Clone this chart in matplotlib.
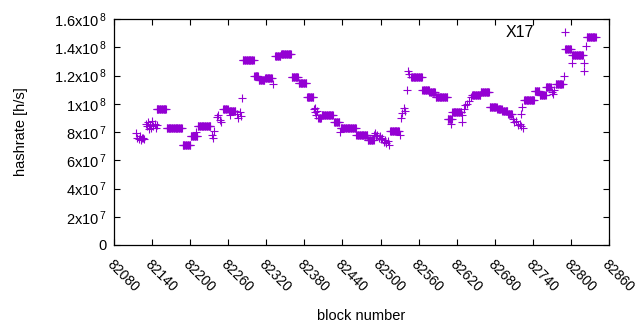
import numpy as np
import matplotlib
matplotlib.use("Agg")
import matplotlib.pyplot as plt

plt.rcParams['font.family'] = ['Liberation Sans', 'DejaVu Sans']
plt.rcParams['mathtext.fontset'] = 'custom'
plt.rcParams['mathtext.rm'] = 'Liberation Sans'
plt.rcParams['mathtext.default'] = 'regular'

# hashrate per block, read as runs of equal value (start block, end block, h/s)
seg_start = [82115, 82117, 82119, 82121, 82122, 82124, 82126, 82128,
             82130, 82132, 82134, 82135, 82137, 82139, 82140, 82142, 82144, 82146, 82148,
             82147, 82163, 82188, 82201, 82209, 82212, 82234, 82236, 82238,
             82242, 82244, 82247, 82249, 82252, 82261, 82262, 82274, 82276, 82278, 82280,
             82281, 82283, 82301, 82308, 82318, 82331, 82334, 82343, 82360, 82371, 82384,
             82395, 82396, 82397, 82398, 82400, 82402, 82407, 82427, 82436, 82437, 82462,
             82480, 82490, 82491, 82493, 82495, 82497, 82499, 82501, 82503, 82505, 82507,
             82509, 82511, 82513, 82515, 82530, 82532, 82534, 82537, 82539, 82541, 82543,
             82545, 82548, 82566, 82577, 82587, 82606, 82611, 82613, 82628, 82629, 82631,
             82633, 82636, 82639, 82642, 82644, 82658, 82672, 82684, 82692, 82701, 82708,
             82711, 82713, 82716, 82719, 82721, 82722, 82723, 82725, 82726, 82743, 82751,
             82761, 82770, 82772, 82774, 82776, 82789, 82791, 82801, 82802, 82820, 82821,
             82823, 82825]
seg_end = [82115, 82117, 82119, 82121, 82122, 82124, 82126, 82128,
           82130, 82132, 82134, 82135, 82137, 82139, 82140, 82142, 82144, 82146, 82148,
           82162, 82187, 82200, 82211, 82209, 82232, 82234, 82236, 82238,
           82242, 82244, 82247, 82249, 82259, 82271, 82262, 82274, 82276, 82278, 82280,
           82281, 82300, 82307, 82317, 82329, 82331, 82342, 82359, 82370, 82383, 82394,
           82395, 82396, 82397, 82398, 82400, 82406, 82425, 82435, 82436, 82461, 82479,
           82489, 82490, 82491, 82493, 82495, 82497, 82499, 82501, 82503, 82505, 82507,
           82509, 82511, 82513, 82529, 82530, 82532, 82534, 82537, 82539, 82541, 82543,
           82545, 82565, 82576, 82586, 82605, 82612, 82611, 82627, 82628, 82629, 82631,
           82633, 82636, 82639, 82642, 82657, 82671, 82683, 82691, 82700, 82707, 82708,
           82711, 82713, 82716, 82719, 82721, 82722, 82723, 82725, 82742, 82750, 82760,
           82768, 82770, 82772, 82774, 82787, 82789, 82800, 82801, 82819, 82820, 82821,
           82823, 82839]
seg_val = [7.9e7, 7.6e7, 7.5e7, 7.7e7, 7.4e7, 7.6e7, 7.55e7, 7.5e7,
           8.6e7, 8.4e7, 8.7e7, 8.2e7, 8.5e7, 8.3e7, 8.8e7, 8.4e7, 8.6e7, 8.3e7, 8.5e7,
           9.6e7, 8.3e7, 7.05e7, 7.7e7, 8.0e7, 8.45e7, 7.8e7, 7.6e7, 8.1e7,
           9.05e7, 9.2e7, 8.85e7, 8.7e7, 9.65e7, 9.5e7, 9.2e7, 9.3e7, 9.0e7, 9.4e7, 9.1e7,
           1.04e8, 1.31e8, 1.2e8, 1.17e8, 1.18e8, 1.14e8, 1.34e8, 1.35e8, 1.19e8, 1.15e8, 1.05e8,
           9.6e7, 9.4e7, 9.7e7, 9.2e7, 9.5e7, 9.0e7, 9.2e7, 8.7e7, 8.0e7, 8.25e7, 7.8e7,
           7.4e7, 7.8e7, 7.9e7, 7.7e7, 7.8e7, 7.6e7, 7.7e7, 7.5e7, 7.6e7, 7.3e7, 7.4e7,
           7.2e7, 7.35e7, 7.1e7, 8.1e7, 7.8e7, 9.0e7, 9.35e7, 9.7e7, 9.5e7, 1.1e8, 1.23e8,
           1.21e8, 1.19e8, 1.1e8, 1.08e8, 1.045e8, 8.9e7, 8.6e7, 9.4e7, 8.7e7, 9.2e7, 9.6e7,
           9.9e7, 1.0e8, 1.02e8, 1.05e8, 1.06e8, 1.08e8, 9.8e7, 9.6e7, 9.5e7, 9.3e7, 8.9e7,
           8.7e7, 8.8e7, 8.5e7, 8.6e7, 9.3e7, 8.4e7, 9.8e7, 8.3e7, 1.03e8, 1.09e8, 1.06e8,
           1.12e8, 1.08e8, 1.07e8, 1.10e8, 1.14e8, 1.2e8, 1.39e8, 1.29e8, 1.345e8, 1.29e8, 1.23e8,
           1.41e8, 1.47e8]

xticks = list(range(82080, 82861, 60))
yticks = [0, 2e7, 4e7, 6e7, 8e7, 1e8, 1.2e8, 1.4e8, 1.6e8]
ytick_labels = ["0", r"2x10$^{\,7}$", r"4x10$^{\,7}$", r"6x10$^{\,7}$", r"8x10$^{\,7}$",
                r"1x10$^{\,8}$", r"1.2x10$^{\,8}$", r"1.4x10$^{\,8}$", r"1.6x10$^{\,8}$"]

blocks = []
rate = []
for s, e, v in zip(seg_start, seg_end, seg_val):
    for b in range(s, e + 1):
        blocks.append(b)
        rate.append(v)

fig = plt.figure(figsize=(6.4, 3.3), dpi=100)
ax = fig.add_axes([114/640, 1-245/330, 495/640, 226/330])
ax.plot(blocks, rate, ls="none", marker="+", ms=5.6, mew=0.8, c="#9400d3", label="X17")
ax.set_xlim(82080, 82860)
ax.set_ylim(0, 1.6e8)
ax.set_xticks(xticks)
ax.set_xticklabels([str(t) for t in xticks], rotation=-45, ha="left", va="top",
                   rotation_mode="anchor", fontsize=10)
ax.set_yticks(yticks)
ax.set_yticklabels(ytick_labels, fontsize=10.5)
ax.tick_params(direction="in", length=4, width=0.8, top=True, right=True, pad=5)
ax.tick_params(axis="x", pad=9)
for sp in ax.spines.values():
    sp.set_linewidth(0.9)
ax.set_xlabel("block number", fontsize=10.5, labelpad=10)
ax.set_ylabel("hashrate [h/s]", fontsize=10.5, labelpad=19)
ax.legend(loc="upper right", markerfirst=False, frameon=False, fontsize=11.5,
          handlelength=2.5, handletextpad=0.7, bbox_to_anchor=(0.98, 1.035))
fig.savefig("out.png", dpi=100)
